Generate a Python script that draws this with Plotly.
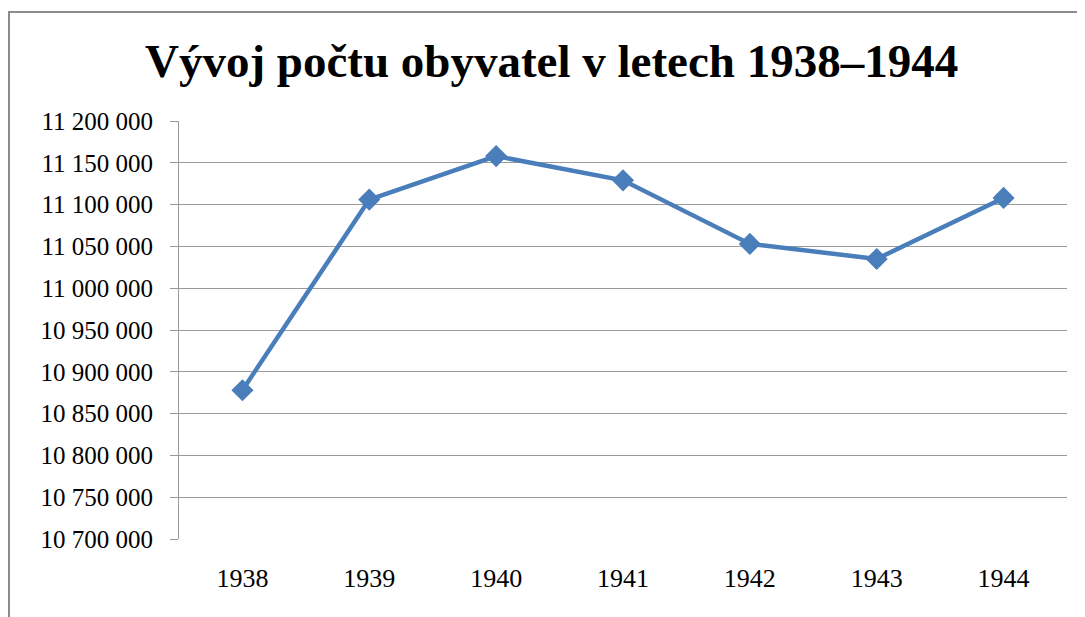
import plotly.graph_objects as go

# Vývoj počtu obyvatel 1938–1944
roky = ['1938', '1939', '1940', '1941', '1942', '1943', '1944']
obyvatel = [10878000, 11106000, 11158000, 11129000, 11053000, 11035000, 11108000]

y_min = 10700000
y_max = 11200000
y_krok = 50000

modra = '#4a7ebb'
seda = '#9a9a9a'
pismo = 'Liberation Serif'

# okraje grafu (stránka má ještě 8 px okraj body)
ml, mr, mt, mb = 171, 26, 113, 86
sirka, vyska = 1085, 617
pw = sirka - ml - mr
ph = vyska - mt - mb

fig = go.Figure()
fig.add_trace(go.Scatter(
    x=roky, y=obyvatel,
    mode='lines+markers',
    line=dict(color=modra, width=4.5),
    marker=dict(symbol='diamond', size=17, color=modra),
    showlegend=False,
))

fig.update_layout(
    width=sirka, height=vyska,
    margin=dict(l=ml, r=mr, t=mt, b=mb),
    paper_bgcolor='white',
    plot_bgcolor='white',
    separators=', ',
    font=dict(family=pismo, color='black', size=24),
    title=dict(
        text='<b>Vývoj počtu obyvatel v letech 1938–1944</b>',
        x=0.501, xanchor='center',
        y=1 - 53 / vyska, yanchor='middle',
        font=dict(family=pismo, size=47, color='black'),
    ),
    xaxis=dict(
        type='category',
        range=[-0.5, 6.5],
        showgrid=False,
        showline=False,
        ticks='',
        ticklabelstandoff=21,
        tickfont=dict(family=pismo, size=26, color='black'),
        zeroline=False,
    ),
    yaxis=dict(
        range=[y_min, y_max],
        dtick=y_krok,
        tick0=y_min,
        tickformat=',d',
        showgrid=True,
        gridcolor=seda,
        gridwidth=1,
        showline=True,
        linecolor=seda,
        linewidth=1,
        ticks='outside',
        ticklen=8,
        tickcolor=seda,
        ticklabelstandoff=12,
        tickfont=dict(family=pismo, size=25, color='black'),
        zeroline=False,
    ),
)

# rámeček okolo grafu (pravý a dolní okraj jsou mimo obrázek)
fig.add_shape(
    type='rect', xref='paper', yref='paper',
    x0=(1 - ml) / pw, x1=(sirka + 10 - ml) / pw,
    y0=-(mb + 10) / ph, y1=1 + (mt - 4) / ph,
    line=dict(color='#8c8c8c', width=2),
    layer='below',
)

fig.write_html('out.html')
